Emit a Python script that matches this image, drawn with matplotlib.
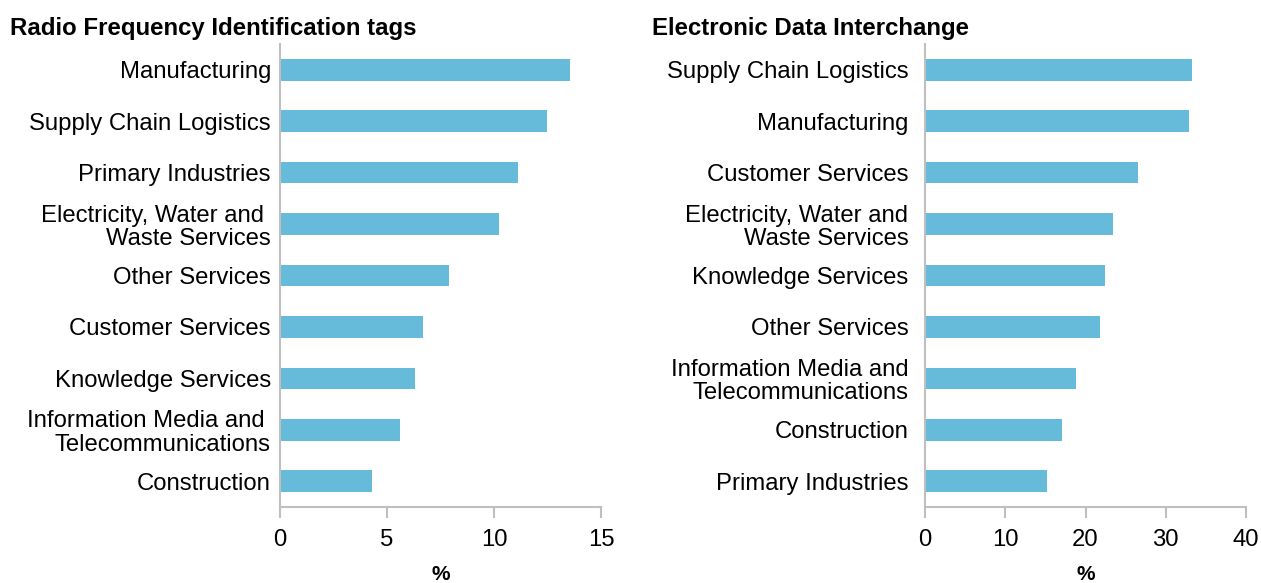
import matplotlib
matplotlib.use("Agg")
import matplotlib.pyplot as plt

plt.rcParams['font.family'] = ['Liberation Sans', 'DejaVu Sans']

# Radio Frequency Identification tags (top to bottom)
rfid_labels = ["Manufacturing", "Supply Chain Logistics", "Primary Industries",
               "Electricity, Water and \nWaste Services", "Other Services",
               "Customer Services", "Knowledge Services",
               "Information Media and \nTelecommunications", "Construction"]
rfid_values = [13.55, 12.48, 11.1, 10.25, 7.9, 6.69, 6.32, 5.63, 4.32]

# Electronic Data Interchange (top to bottom)
edi_labels = ["Supply Chain Logistics", "Manufacturing", "Customer Services",
              "Electricity, Water and\nWaste Services", "Knowledge Services",
              "Other Services", "Information Media and\nTelecommunications",
              "Construction", "Primary Industries"]
edi_values = [33.25, 32.9, 26.5, 23.37, 22.45, 21.75, 18.84, 17.05, 15.26]

bar_color = '#66bbdb'
grey = '#bfbfbf'

fig = plt.figure(figsize=(12.61, 5.83), dpi=100)
W, H = 1261, 583


def draw(ax, labels, values, xmax, step, title, title_x, pad):
    y = list(range(len(labels)))[::-1]
    ax.barh(y, values, height=0.42, color=bar_color)
    ax.set_ylim(-0.5, len(labels) - 0.5)
    ax.set_xlim(0, xmax)
    ax.set_xticks(range(0, xmax + 1, step))
    ax.set_yticks(y)
    ax.set_yticklabels(labels, fontsize=17.2, linespacing=1.07)
    ax.tick_params(axis='y', length=0, pad=pad)
    ax.tick_params(axis='x', length=8, width=1.5, color=grey, labelsize=17.2,
                   pad=8, direction='out')
    for s in ['top', 'right']:
        ax.spines[s].set_visible(False)
    for s in ['left', 'bottom']:
        ax.spines[s].set_color(grey)
        ax.spines[s].set_linewidth(1.5)
    ax.set_xlabel('%', fontsize=15, fontweight='bold', labelpad=10)
    fig.text(title_x / W, 1 - 28 / H, title, fontsize=17.3, fontweight='bold',
             ha='left', va='center')


bottom = 1 - 507 / H
top = 1 - 44 / H
ax1 = fig.add_axes([280 / W, bottom, (601 - 280) / W, top - bottom])
ax2 = fig.add_axes([925 / W, bottom, (1246 - 925) / W, top - bottom])

draw(ax1, rfid_labels, rfid_values, 15, 5,
     "Radio Frequency Identification tags", 10, 6.5)
draw(ax2, edi_labels, edi_values, 40, 10,
     "Electronic Data Interchange", 652, 12)

fig.savefig("out.png", dpi=100)
